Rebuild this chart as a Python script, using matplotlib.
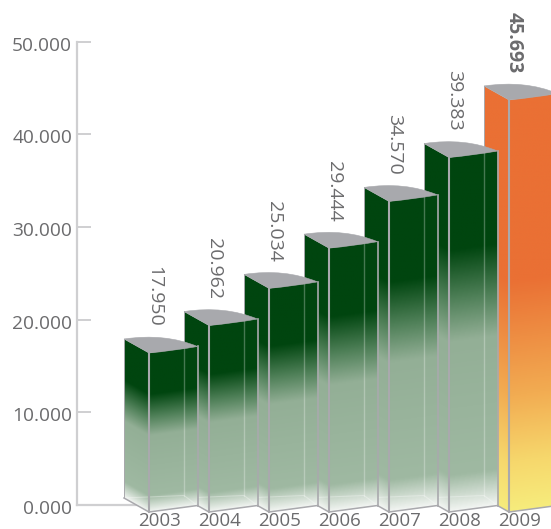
import numpy as np
import matplotlib
matplotlib.use("Agg")
import matplotlib.pyplot as plt
from matplotlib.colors import LinearSegmentedColormap
from matplotlib.patches import Polygon, PathPatch
from matplotlib.path import Path
from matplotlib.transforms import ScaledTranslation

plt.rcParams['font.family'] = ['Open Sans', 'DejaVu Sans']

# Data
years = ['2003', '2004', '2005', '2006', '2007', '2008', '2009']
values = [17.950, 20.962, 25.034, 29.444, 34.570, 39.383, 45.693]
axis_ticks = [0, 10, 20, 30, 40, 50]
axis_labels = ['0.000', '10.000', '20.000', '30.000', '40.000', '50.000']

W, H = 551, 529
PX_X = 60.0       # px per category
PX_V = 9.12       # px per value unit on the bars
FRONT0 = 149.0    # px of the first front edge
ZERO = 516.7      # px of value zero on the bar scale
FLOOR = (ZERO - 512.0) / PX_V  # value at which the front-base sits
TXT = '#6B6B6D'
EDGE = '#A9A9AD'
TOPC = '#A8A9AD'

green = LinearSegmentedColormap.from_list('g', [
    (0.00, '#F2F5F2'), (0.035, '#D5E0D6'), (0.10, '#9FB9A2'), (0.48, '#93AF96'),
    (0.60, '#4F8058'), (0.74, '#00450F'), (1.00, '#00450F')])
orange = LinearSegmentedColormap.from_list('o', [
    (0.00, '#F7EC7C'), (0.12, '#F6D76C'), (0.28, '#F2AC52'), (0.56, '#EA7034'), (1.00, '#EA7034')])

fig = plt.figure(figsize=(W / 100, H / 100), dpi=100)

# value axis (own scale)
ax0 = fig.add_axes([77 / W, (H - 505) / H, 60 / W, (505 - 41.5) / H], facecolor='none', zorder=1)
ax0.set_ylim(0, 50)
ax0.set_xlim(0, 1)
for s in ('top', 'right'):
    ax0.spines[s].set_visible(False)
for s in ('left', 'bottom'):
    ax0.spines[s].set_color('#CFCFD1')
    ax0.spines[s].set_linewidth(1.6)
ax0.set_xticks([])
ax0.set_yticks(axis_ticks)
ax0.set_yticklabels(axis_labels, fontsize=13.8, color=TXT)
ax0.tick_params(axis='y', direction='in', length=10, width=1.4, color='#CFCFD1', pad=5)
shift = ScaledTranslation(1.5 / 72, -1.5 / 72, fig.dpi_scale_trans)
for lab in ax0.get_yticklabels():
    lab.set_transform(lab.get_transform() + shift)

# bars
ax = fig.add_axes([0, 0, 1, 1], facecolor='none', zorder=2)
ax.set_xlim(-FRONT0 / PX_X, (W - FRONT0) / PX_X)
ax.set_ylim((ZERO - H) / PX_V, ZERO / PX_V)
ax.axis('off')

dxL, dxR, dxB = -25 / PX_X, 48.5 / PX_X, 35 / PX_X
dvL, dvR = 14 / PX_V, 6.5 / PX_V


def face(x0, x1, v0, v1, top, cmap, z):
    h = top - FLOOR
    xs = np.linspace(x0, x1, 40)
    vs = np.linspace(min(v0, v1), max(v0, v1) + h, 500)
    X, V = np.meshgrid(xs, vs)
    B = v0 + (v1 - v0) * (X - x0) / (x1 - x0)
    T = np.clip((V - B) / h, 0, 1)
    im = ax.imshow(T, extent=(x0, x1, vs[0], vs[-1]), origin='lower', cmap=cmap, vmin=0, vmax=1,
                   aspect='auto', interpolation='bilinear', zorder=z)
    clip = Polygon([(x0, v0), (x1, v1), (x1, v1 + h), (x0, v0 + h)], transform=ax.transData,
                   fc='none', ec='none')
    im.set_clip_path(clip)


for i in range(len(values) - 1, -1, -1):
    val = values[i]
    z = 10 + (len(values) - i)
    cmap = orange if i == len(values) - 1 else green
    xL, xR = i + dxL, i + dxR
    f = FLOOR
    face(xL, i, f + dvL, f, val, cmap, z)
    face(i, xR, f, f + dvR, val, cmap, z)

    # faint rear edges seen through the glass
    dvB = dvL + dvR - 4 / PX_V
    if i < len(values) - 1:
        ax.plot([i + dxB, i + dxB], [f + dvB, val + dvR + 2 / PX_V], color='white', alpha=0.28, lw=1.0, zorder=z)
        ax.plot([xL, i + dxB, xR], [f + dvL, f + dvB, f + dvR], color='white', alpha=0.3, lw=0.8, zorder=z)

    # edges
    ax.plot([xL, xL], [f + dvL, dvL + val], color=EDGE, lw=0.7, zorder=z)
    ax.plot([i, i], [f, val], color=EDGE, lw=1.5, zorder=z)
    ax.plot([xR, xR], [f + dvR, dvR + val], color=EDGE, lw=1.2, zorder=z)
    ax.plot([xL, i, xR], [f + dvL, f, f + dvR], color=EDGE, lw=1.1, zorder=z)

    # top cap
    verts = [(xL, val + dvL), (i + 16 / PX_X, val + 20 / PX_V), (xR, val + dvR),
             (i + 24 / PX_X, val + 2.2 / PX_V), (i, val), (xL, val + dvL)]
    codes = [Path.MOVETO, Path.CURVE3, Path.CURVE3, Path.CURVE3, Path.CURVE3, Path.LINETO]
    ax.add_patch(PathPatch(Path(verts, codes), fc=TOPC, ec=TOPC, lw=0.4, zorder=z + 0.5))

    # labels
    bold = i == len(values) - 1
    ax.text(i + 5 / PX_X, val + (14 + 12.5) / PX_V, f'{val:.3f}', rotation=270, ha='center', va='bottom',
            fontsize=14, color=TXT, fontweight='bold' if bold else 'normal', zorder=40)
    ax.text(i + 10.5 / PX_X, (ZERO - 521.5) / PX_V, years[i], ha='center', va='center',
            fontsize=13.5, color=TXT, zorder=40, clip_on=False)

fig.savefig('out.png', dpi=100)
